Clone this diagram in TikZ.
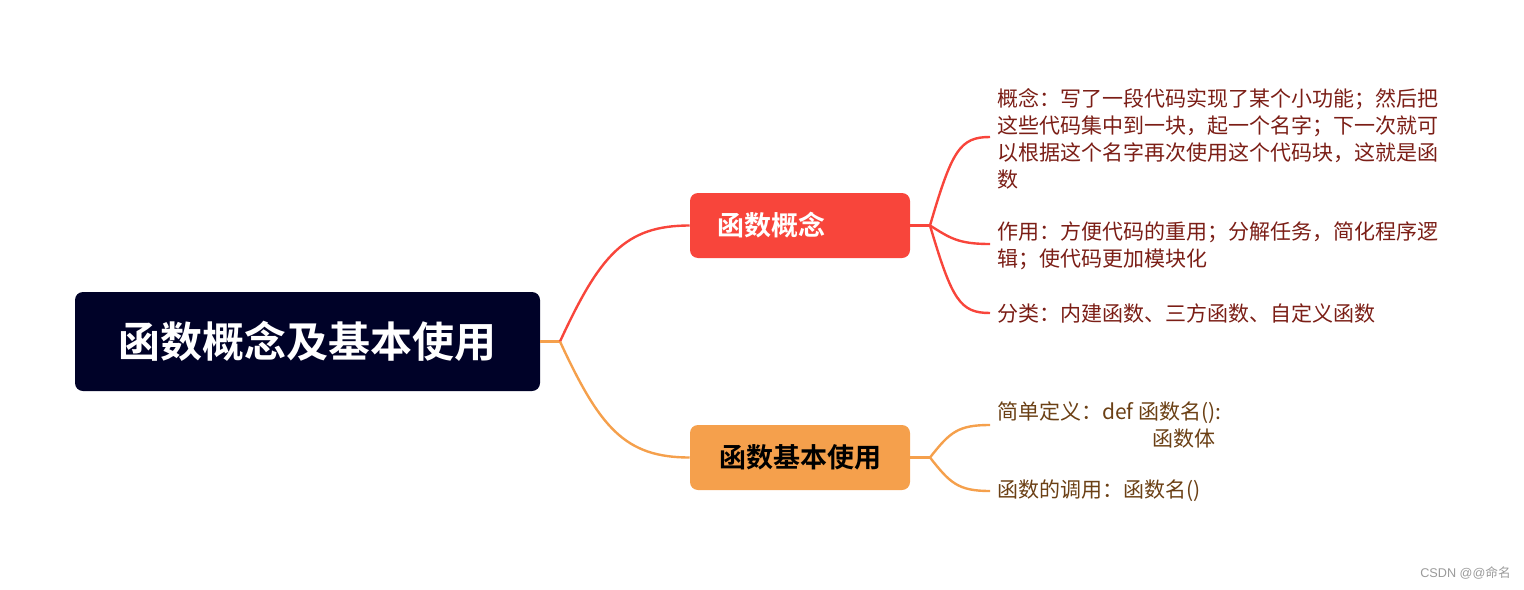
\documentclass[tikz,border=0pt]{standalone}
\usepackage{fontspec}
\newfontfamily\cjk{Noto Sans CJK SC}[BoldFont={Noto Sans CJK SC Bold}]
\newfontfamily\marksans{Liberation Sans}
\definecolor{rootfill}{HTML}{000228}
\definecolor{redfill}{HTML}{F8453B}
\definecolor{orangefill}{HTML}{F5A04C}
\definecolor{redtext}{HTML}{7B1E16}
\definecolor{browntext}{HTML}{6B4015}
\definecolor{markgray}{HTML}{9A9A9A}
\tikzset{
  rootbox/.style={fill=rootfill, rounded corners=6pt, text=white, font=\cjk\bfseries\fontsize{31.5pt}{36pt}\selectfont,
    minimum width=348.75pt, minimum height=74.25pt, inner sep=0pt},
  midbox/.style={rounded corners=6pt, font=\cjk\bfseries\fontsize{20.25pt}{24pt}\selectfont,
    minimum width=165pt, minimum height=48.75pt, inner sep=0pt},
  leaf/.style={anchor=west, inner sep=0pt, align=left, font=\cjk\fontsize{15.75pt}{20.25pt}\selectfont},
  redline/.style={draw=redfill, line width=1.8pt},
  orangeline/.style={draw=orangefill, line width=1.8pt},
}
\begin{document}
\begin{tikzpicture}[x=0.75pt,y=-0.75pt]
\useasboundingbox (0,0) rectangle (1524,589);
% nodes
\node[rootbox] (root) at (307.5,341.5) {函数概念及基本使用};
\node[midbox, fill=redfill, text=white] (concept) at (800,225.5)
  {\makebox[124.5pt][l]{函数概念}};
\node[midbox, fill=orangefill, text=black] (usage) at (800,457.5) {函数基本使用};

\node[leaf, text=redtext] (l1) at (997,138.5)
  {概念：写了一段代码实现了某个小功能；然后把\\这些代码集中到一块，起一个名字；下一次就可\\以根据这个名字再次使用这个代码块，这就是函\\数};
\node[leaf, text=redtext] (l2) at (997,245.5)
  {作用：方便代码的重用；分解任务，简化程序逻\\辑；使代码更加模块化};
\node[leaf, text=redtext] (l3) at (997,313)
  {分类：内建函数、三方函数、自定义函数};
\node[leaf, text=browntext] (l4) at (997,424.5)
  {简单定义：def 函数名():\\\hspace*{116.25pt}函数体};
\node[leaf, text=browntext] (l5) at (997,491)
  {函数的调用：函数名()};

\node[anchor=east, inner sep=0pt, text=markgray, font=\marksans\fontsize{9.5pt}{10pt}\selectfont] (mark) at (1511,573)
  {CSDN @@{\cjk 命名}};

% coordinates
\coordinate (rj) at (560,341.5);
\coordinate (cj) at (930,225.5);
\coordinate (uj) at (930,457.5);
\coordinate (e1) at (990,137);
\coordinate (e2) at (990,244);
\coordinate (e3) at (990,313);
\coordinate (e4) at (990,425);
\coordinate (e5) at (990,491);

% connectors
\draw[orangeline] (root.east) -- (rj);
\draw[redline] (rj) .. controls (600,255) and (625,225.5) .. (concept.west);
\draw[orangeline] (rj) .. controls (600,428) and (625,457.5) .. (usage.west);

\draw[redline] (concept.east) -- (cj);
\draw[redline] (cj) .. controls (952,150) and (960,137) .. (e1);
\draw[redline] (cj) .. controls (950,238) and (958,244) .. (e2);
\draw[redline] (cj) .. controls (952,300) and (960,313) .. (e3);

\draw[orangeline] (usage.east) -- (uj);
\draw[orangeline] (uj) .. controls (950,432) and (958,425) .. (e4);
\draw[orangeline] (uj) .. controls (950,483) and (958,491) .. (e5);
\end{tikzpicture}
\end{document}
